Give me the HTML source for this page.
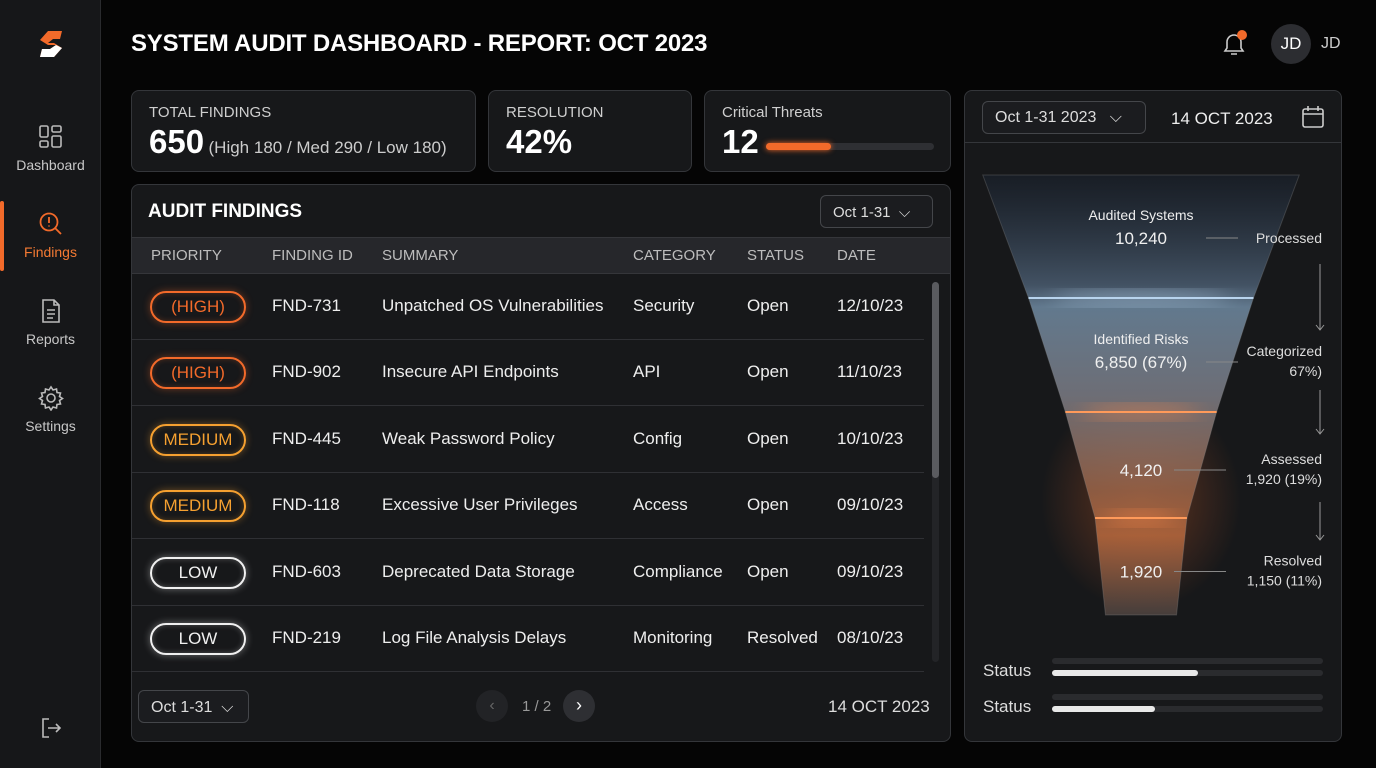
<!DOCTYPE html>
<html><head><meta charset="utf-8">
<style>
*{box-sizing:border-box;margin:0;padding:0}
body{width:1376px;height:768px;background:#050505;font-family:"Liberation Sans",sans-serif;color:#e8e8e8;position:relative;overflow:hidden}
.abs{position:absolute}
.side{left:0;top:0;width:101px;height:768px;background:#161719;border-right:1px solid #2a2b2e}
.nav{position:absolute;left:0;width:101px;text-align:center;font-size:14px;color:#c8c8c8}
.card{position:absolute;background:#17181a;border:1px solid #34363a;border-radius:8px}
.lbl{font-size:15px;color:#cfcfcf}
.big{font-size:33px;font-weight:bold;color:#fff}
.th{position:absolute;top:247px;font-size:15px;color:#bdbdbd}
.row{position:absolute;left:132px;width:792px;height:66px;border-bottom:1px solid #2f3034}
.cell{position:absolute;top:22px;font-size:17px;color:#eee}
.pill{position:absolute;left:18px;top:17px;width:96px;height:32px;border:2px solid;border-radius:16px;text-align:center;font-size:17px;line-height:28px}
.sel{position:absolute;border:1px solid #44464a;border-radius:6px;font-size:15px;color:#ddd;background:#1b1c1f}
</style></head><body>
<div class="abs side">
 <svg class="abs" style="left:36px;top:28px" width="30" height="32" viewBox="0 0 30 32"><path d="M26 3H12L4 12l8 5h8l-6 4H6l-2 8h14l8-9-8-5h-6l5-4h7z" fill="#f26a2a"/><path d="M20 17l6 3-8 9H4l2-8h8z" fill="#fff"/></svg>
 <div class="nav" style="top:124px"><svg width="26" height="26" viewBox="0 0 26 26" fill="none" stroke="#bbb" stroke-width="1.6"><rect x="2" y="2" width="8" height="11" rx="1.5"/><rect x="14" y="2" width="9" height="6" rx="1.5"/><rect x="2" y="17" width="8" height="6" rx="1.5"/><rect x="14" y="12" width="9" height="11" rx="1.5"/></svg><div style="margin-top:4px">Dashboard</div></div>
 <div class="abs" style="left:0;top:201px;width:4px;height:70px;background:#f26a2a;border-radius:2px"></div>
 <div class="nav" style="top:211px;color:#f47a33"><svg width="26" height="26" viewBox="0 0 26 26" fill="none" stroke="#f26a2a" stroke-width="1.8"><circle cx="11" cy="11" r="8.5"/><path d="M17 17l6 6M11 6v6M11 14.5v1"/></svg><div style="margin-top:4px">Findings</div></div>
 <div class="nav" style="top:298px"><svg width="26" height="26" viewBox="0 0 26 26" fill="none" stroke="#bbb" stroke-width="1.6"><path d="M5 2h11l5 5v17H5z M16 2v5h5 M9 12h8M9 16h8M9 20h6"/></svg><div style="margin-top:4px">Reports</div></div>
 <div class="nav" style="top:385px"><svg width="26" height="26" viewBox="0 0 26 26" fill="none" stroke="#bbb" stroke-width="1.6"><circle cx="13" cy="13" r="4"/><path d="M13 2l2 3 3.5-1 .5 3.5 3.5.5-1 3.5 3 2-3 2 1 3.5-3.5.5-.5 3.5-3.5-1-2 3-2-3-3.5 1-.5-3.5-3.5-.5 1-3.5-3-2 3-2-1-3.5 3.5-.5.5-3.5 3.5 1z"/></svg><div style="margin-top:4px">Settings</div></div>
 <svg class="abs" style="left:39px;top:716px" width="24" height="24" viewBox="0 0 24 24" fill="none" stroke="#bbb" stroke-width="1.6"><path d="M10 3H4v18h6M9 12h12M17 8l4 4-4 4"/></svg>
</div>

<div class="abs" style="left:131px;top:30px;font-size:24px;font-weight:bold;color:#fff;letter-spacing:-0.2px">SYSTEM AUDIT DASHBOARD - REPORT: OCT 2023</div>
<svg class="abs" style="left:1220px;top:30px" width="30" height="28" viewBox="0 0 30 28"><path d="M5 21h18l-2-3v-6a7 7 0 0 0-14 0v6z M11 24h6" fill="none" stroke="#ccc" stroke-width="1.6"/><circle cx="22" cy="5" r="5" fill="#f26a2a"/></svg>
<div class="abs" style="left:1271px;top:24px;width:40px;height:40px;border-radius:50%;background:#2c2d31;text-align:center;line-height:40px;font-size:17px;color:#fff">JD</div>
<div class="abs" style="left:1321px;top:35px;font-size:16px;color:#ccc">JD</div>

<div class="card" style="left:131px;top:90px;width:345px;height:82px">
 <div class="abs lbl" style="left:17px;top:13px">TOTAL FINDINGS</div>
 <div class="abs" style="left:17px;top:32px"><span class="big">650</span> <span style="font-size:17px;color:#ccc">(High 180 / Med 290 / Low 180)</span></div>
</div>
<div class="card" style="left:488px;top:90px;width:204px;height:82px">
 <div class="abs lbl" style="left:17px;top:13px">RESOLUTION</div>
 <div class="abs big" style="left:17px;top:32px">42%</div>
</div>
<div class="card" style="left:704px;top:90px;width:247px;height:82px">
 <div class="abs lbl" style="left:17px;top:13px">Critical Threats</div>
 <div class="abs big" style="left:17px;top:32px">12</div>
 <div class="abs" style="left:61px;top:52px;width:168px;height:7px;background:#2e2f33;border-radius:4px"><div style="width:65px;height:7px;background:#f26a2a;border-radius:4px;box-shadow:0 0 6px #f26a2a"></div></div>
</div>

<div class="card" style="left:131px;top:184px;width:820px;height:558px"></div>
<div class="abs" style="left:148px;top:201px;font-size:19px;font-weight:bold;color:#fff">AUDIT FINDINGS</div>
<div class="sel" style="left:820px;top:195px;width:113px;height:33px;padding:8px 12px">Oct 1-31 &nbsp;⌵</div>
<div class="abs" style="left:132px;top:237px;width:818px;height:37px;background:#26272b;border-top:1px solid #35363a;border-bottom:1px solid #35363a"></div>
<div class="th" style="left:151px">PRIORITY</div><div class="th" style="left:272px">FINDING ID</div><div class="th" style="left:382px">SUMMARY</div><div class="th" style="left:633px">CATEGORY</div><div class="th" style="left:747px">STATUS</div><div class="th" style="left:837px">DATE</div>
<div id="rows"></div>
<div class="abs" style="left:932px;top:282px;width:7px;height:380px;background:#232427;border-radius:4px"><div style="width:7px;height:196px;background:#5a5b5f;border-radius:4px"></div></div>
<div class="sel" style="left:138px;top:690px;width:111px;height:33px;padding:8px 12px;font-size:16px">Oct 1-31 &nbsp;⌵</div>
<div class="abs" style="left:476px;top:690px;width:32px;height:32px;border-radius:50%;background:#222326;color:#666;text-align:center;line-height:31px">‹</div>
<div class="abs" style="left:522px;top:698px;font-size:15px;color:#999">1 / 2</div>
<div class="abs" style="left:563px;top:690px;width:32px;height:32px;border-radius:50%;background:#2e2f33;color:#fff;text-align:center;line-height:31px;font-size:18px">›</div>
<div class="abs" style="left:828px;top:697px;font-size:17px;color:#ddd">14 OCT 2023</div>

<div class="card" style="left:964px;top:90px;width:378px;height:652px"></div>
<div class="abs" style="left:965px;top:142px;width:376px;height:1px;background:#34363a"></div>
<div class="sel" style="left:982px;top:101px;width:164px;height:33px;padding:7px 12px;font-size:16px">Oct 1-31 2023 &nbsp;&nbsp;⌵</div>
<div class="abs" style="left:1171px;top:109px;font-size:17px;color:#eee">14 OCT 2023</div>
<svg class="abs" style="left:1301px;top:105px" width="24" height="24" viewBox="0 0 24 24" fill="none" stroke="#ccc" stroke-width="1.6"><rect x="2" y="4" width="20" height="18" rx="2"/><path d="M2 9h20M7 1v5M17 1v5"/></svg>
<svg id="funnel" class="abs" style="left:964px;top:140px" width="378" height="500"></svg>

<div class="abs" style="left:983px;top:661px;font-size:17px;color:#ddd">Status</div>
<div class="abs" style="left:1052px;top:658px;width:271px;height:6px;background:#2a2b2e;border-radius:3px"></div>
<div class="abs" style="left:1052px;top:670px;width:271px;height:6px;background:#2a2b2e;border-radius:3px"><div style="width:54%;height:6px;background:#e8e8e8;border-radius:3px"></div></div>
<div class="abs" style="left:983px;top:697px;font-size:17px;color:#ddd">Status</div>
<div class="abs" style="left:1052px;top:694px;width:271px;height:6px;background:#2a2b2e;border-radius:3px"></div>
<div class="abs" style="left:1052px;top:706px;width:271px;height:6px;background:#2a2b2e;border-radius:3px"><div style="width:38%;height:6px;background:#e8e8e8;border-radius:3px"></div></div>

<script>
const priorities=["(HIGH)","(HIGH)","MEDIUM","MEDIUM","LOW","LOW"];
const ids=["FND-731","FND-902","FND-445","FND-118","FND-603","FND-219"];
const summaries=["Unpatched OS Vulnerabilities","Insecure API Endpoints","Weak Password Policy","Excessive User Privileges","Deprecated Data Storage","Log File Analysis Delays"];
const categories=["Security","API","Config","Access","Compliance","Monitoring"];
const statuses=["Open","Open","Open","Open","Open","Resolved"];
const dates=["12/10/23","11/10/23","10/10/23","09/10/23","09/10/23","08/10/23"];
const rowsEl=document.getElementById('rows');
const pc={"(HIGH)":"#f26a2a","MEDIUM":"#f5a030","LOW":"#f0f0f0"};
priorities.forEach((p,i)=>{
 const r=document.createElement('div');r.className='row';r.style.top=(274+i*66.4)+'px';
 
 
 const c=pc[p];
 r.innerHTML=`<div class="pill" style="border-color:${c};color:${c};box-shadow:0 0 8px ${c}66,inset 0 0 6px ${c}44">${p}</div>
 <div class="cell" style="left:140px">${ids[i]}</div><div class="cell" style="left:250px">${summaries[i]}</div>
 <div class="cell" style="left:501px">${categories[i]}</div><div class="cell" style="left:615px">${statuses[i]}</div><div class="cell" style="left:705px">${dates[i]}</div>`;
 rowsEl.appendChild(r);
});

// funnel
const stageValues=[10240,6850,4120,1920,1150];
const stageNames=["Audited Systems","Identified Risks","",""];
const stageLabels=["10,240","6,850 (67%)","4,120","1,920"];
const sideTitles=["Processed","Categorized","Assessed","Resolved"];
const sideSubs=["","67%)","1,920 (19%)","1,150 (11%)"];
const NS='http://www.w3.org/2000/svg';
const svg=document.getElementById('funnel');
const cx=177;
const ys=[35,158,272,378,475];
const w=v=>40+v*0.027;
svg.innerHTML=`<defs><linearGradient id="fg" gradientUnits="userSpaceOnUse" x1="0" y1="35" x2="0" y2="475"><stop offset="0" stop-color="#1a2330" stop-opacity=".6"/><stop offset=".25" stop-color="#4a5c70"/><stop offset=".3" stop-color="#6f8aa2"/><stop offset=".5" stop-color="#7c7d86"/><stop offset=".72" stop-color="#9a6448"/><stop offset=".82" stop-color="#b8693e"/><stop offset="1" stop-color="#4e4441"/></linearGradient>
<radialGradient id="glow"><stop offset="0" stop-color="#f26a2a" stop-opacity=".35"/><stop offset="1" stop-color="#f26a2a" stop-opacity="0"/></radialGradient>
<filter id="blur"><feGaussianBlur stdDeviation="10"/></filter></defs>`;
const glow=document.createElementNS(NS,'ellipse');
glow.setAttribute('cx',cx);glow.setAttribute('cy',360);glow.setAttribute('rx',100);glow.setAttribute('ry',110);glow.setAttribute('fill','url(#glow)');


svg.appendChild(glow);
for(let i=0;i<4;i++){
 const a=w(stageValues[i])/2,b=w(stageValues[i+1])/2;
 const p=document.createElementNS(NS,'path');
 p.setAttribute('d',`M${cx-a},${ys[i]}L${cx+a},${ys[i]}L${cx+b},${ys[i+1]}L${cx-b},${ys[i+1]}Z`);
 p.setAttribute('fill','url(#fg)');p.setAttribute('fill-opacity','0.85');
 p.setAttribute('stroke','#8a8a8a');p.setAttribute('stroke-opacity','.3');
 
 
 svg.appendChild(p);
 if(i>0){
  const g=document.createElementNS(NS,'ellipse');
  g.setAttribute('cx',cx);g.setAttribute('cy',ys[i]);g.setAttribute('rx',a*0.8);g.setAttribute('ry',8);
  g.setAttribute('fill',i==1?'#b8d4ee':'#ff8a4a');g.setAttribute('opacity','.45');g.setAttribute('filter','url(#blur)');
  
  
  svg.appendChild(g);
  const l=document.createElementNS(NS,'line');
  l.setAttribute('x1',cx-a);l.setAttribute('x2',cx+a);l.setAttribute('y1',ys[i]);l.setAttribute('y2',ys[i]);
  l.setAttribute('stroke',i==1?'#b8d4ee':'#ff9a5a');l.setAttribute('stroke-width','2');
  
  
  svg.appendChild(l);}
 const mid=i==0?98:i==1?222:ys[i]+(ys[i+1]-ys[i])/2+5;
 if(stageNames[i]){const t=document.createElementNS(NS,'text');t.setAttribute('x',cx);t.setAttribute('y',mid-18);t.setAttribute('text-anchor','middle');t.setAttribute('fill','#eee');t.setAttribute('font-size','14');t.textContent=stageNames[i];
  
  
  svg.appendChild(t);}
 const v=document.createElementNS(NS,'text');v.setAttribute('x',cx);v.setAttribute('y',mid+6);v.setAttribute('text-anchor','middle');v.setAttribute('fill','#f0f0f0');v.setAttribute('font-size','17');v.textContent=stageLabels[i];
 
 
 svg.appendChild(v);
 const ln=document.createElementNS(NS,'line');ln.setAttribute('x1',i<2?242:210);ln.setAttribute('x2',i<2?274:262);ln.setAttribute('y1',mid);ln.setAttribute('y2',mid);ln.setAttribute('stroke','#888');
 
 
 svg.appendChild(ln);
 const st=document.createElementNS(NS,'text');st.setAttribute('x',358);st.setAttribute('y',sideSubs[i]?mid-6:mid+5);st.setAttribute('text-anchor','end');st.setAttribute('fill','#ddd');st.setAttribute('font-size','14');st.textContent=sideTitles[i];
 
 
 svg.appendChild(st);
 if(sideSubs[i]){const ss=document.createElementNS(NS,'text');ss.setAttribute('x',358);ss.setAttribute('y',mid+14);ss.setAttribute('text-anchor','end');ss.setAttribute('fill','#ddd');ss.setAttribute('font-size','14');ss.textContent=sideSubs[i];
  
  
  svg.appendChild(ss);}
 if(i<3){const ar=document.createElementNS(NS,'path');const y0=i==0?124:i==1?250:362,y1=i==0?190:i==1?294:400;
  ar.setAttribute('d',`M356,${y0}V${y1}M352,${y1-5}L356,${y1}L360,${y1-5}`);ar.setAttribute('stroke','#999');ar.setAttribute('fill','none');
  
  
  svg.appendChild(ar);}
}
</script>
</body></html>
